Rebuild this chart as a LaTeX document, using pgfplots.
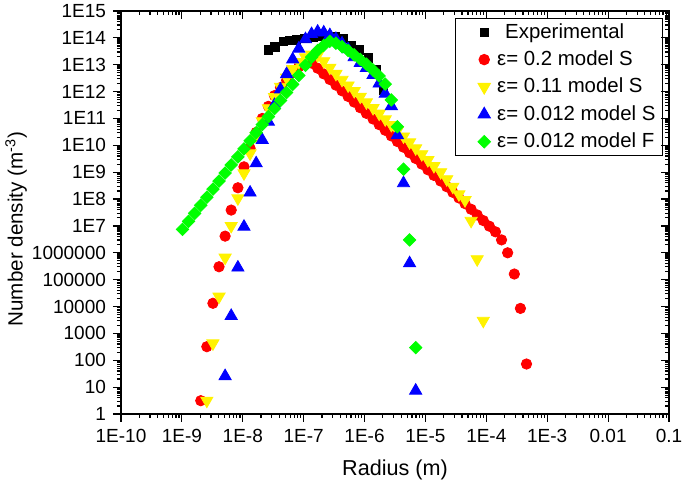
\documentclass[border=0pt]{standalone}
\usepackage{fontspec}
\setmainfont{Liberation Sans}
\usepackage{pgfplots}
\usepackage{pgfplotstable}
\pgfplotsset{compat=1.18}

\pgfplotstableread{
r N
2.63e-8 3.55e13
3.39e-8 4.68e13
4.62e-8 7.24e13
5.96e-8 7.94e13
7.67e-8 8.32e13
1.047e-7 9.33e13
1.413e-7 1.07e14
1.862e-7 1.17e14
2.399e-7 1.23e14
3.266e-7 1.10e14
4.467e-7 9.55e13
6.14e-7 5.37e13
8.32e-7 3.55e13
1.148e-6 1.78e13
1.549e-6 6.31e12
2.028e-6 1.10e12
}\tblexp

\pgfplotstableread{
r N
2.042e-9 3.13
2.570e-9 320
3.236e-9 1.32e4
4.074e-9 3.02e5
5.129e-9 4.17e6
6.457e-9 3.89e7
8.318e-9 2.63e8
1.047e-8 1.58e9
1.318e-8 7.76e9
1.660e-8 3.02e10
2.089e-8 1.00e11
2.630e-8 2.82e11
3.311e-8 7.08e11
4.169e-8 1.41e12
5.248e-8 2.63e12
6.607e-8 5.01e12
8.318e-8 8.32e12
1.072e-7 1.26e13
1.349e-7 1.15e13
1.698e-7 7.41e12
2.138e-7 4.57e12
2.692e-7 2.82e12
3.388e-7 1.74e12
4.266e-7 1.07e12
5.370e-7 6.61e11
6.761e-7 4.07e11
8.511e-7 2.51e11
1.072e-6 1.55e11
1.380e-6 9.55e10
1.738e-6 5.89e10
2.188e-6 3.63e10
2.754e-6 2.24e10
3.467e-6 1.38e10
4.365e-6 8.51e9
5.495e-6 5.25e9
6.918e-6 3.24e9
8.710e-6 2.00e9
1.096e-5 1.23e9
1.380e-5 7.59e8
1.778e-5 4.68e8
2.239e-5 2.88e8
2.818e-5 1.78e8
3.548e-5 1.10e8
4.467e-5 6.76e7
5.623e-5 4.17e7
7.079e-5 2.57e7
8.913e-5 1.58e7
1.122e-4 9.77e6
1.413e-4 6.03e6
1.778e-4 3.02e6
2.239e-4 1.00e6
2.884e-4 1.62e5
3.631e-4 8.51e3
4.571e-4 72.4
}\tblred

\pgfplotstableread{
r N
2.570e-9 3.13
3.236e-9 427
4.074e-9 2.34e4
5.129e-9 6.61e5
6.457e-9 1.00e7
8.318e-9 1.07e8
1.047e-8 9.12e8
1.318e-8 5.01e9
1.660e-8 2.24e10
2.089e-8 7.94e10
2.630e-8 2.40e11
3.311e-8 6.31e11
4.169e-8 1.51e12
5.248e-8 3.31e12
6.607e-8 6.92e12
8.318e-8 1.26e13
1.072e-7 1.91e13
1.349e-7 2.40e13
1.698e-7 2.24e13
2.138e-7 1.35e13
2.692e-7 7.76e12
3.388e-7 4.57e12
4.266e-7 2.75e12
5.370e-7 1.70e12
6.761e-7 1.05e12
8.511e-7 6.46e11
1.072e-6 3.98e11
1.380e-6 2.45e11
1.738e-6 1.51e11
2.188e-6 9.33e10
2.754e-6 5.75e10
3.467e-6 3.55e10
4.365e-6 2.14e10
5.495e-6 1.29e10
6.918e-6 7.76e9
8.710e-6 4.68e9
1.096e-5 2.82e9
1.380e-5 1.70e9
1.778e-5 1.00e9
2.239e-5 5.50e8
2.818e-5 2.88e8
3.548e-5 1.51e8
4.467e-5 9.12e7
5.623e-5 1.55e7
7.079e-5 5.75e5
8.913e-5 2.95e3
1.122e-4 0.8
}\tblyel

\pgfplotstableread{
r N
5.129e-9 25.7
6.457e-9 4470
8.318e-9 2.82e5
1.047e-8 9.33e6
1.318e-8 1.74e8
1.660e-8 2.14e9
2.089e-8 1.58e10
2.630e-8 7.59e10
3.311e-8 3.16e11
4.169e-8 1.20e12
5.248e-8 4.47e12
6.607e-8 1.58e13
8.318e-8 3.98e13
1.072e-7 8.91e13
1.349e-7 1.38e14
1.698e-7 1.70e14
2.138e-7 1.58e14
2.692e-7 1.26e14
3.388e-7 9.12e13
4.266e-7 6.17e13
5.370e-7 3.80e13
6.761e-7 1.91e13
8.511e-7 1.17e13
1.072e-6 7.59e12
1.380e-6 4.17e12
1.738e-6 2.00e12
2.188e-6 8.32e11
2.754e-6 2.88e11
3.467e-6 2.40e10
4.365e-6 3.89e8
5.495e-6 4.07e5
6.918e-6 7.41
}\tblblue

\pgfplotstableread{
r N
1.023e-9 7.41e6
1.288e-9 1.48e7
1.622e-9 2.95e7
2.042e-9 5.89e7
2.570e-9 1.17e8
3.236e-9 2.34e8
4.074e-9 4.68e8
5.129e-9 9.33e8
6.457e-9 1.86e9
8.318e-9 3.72e9
1.047e-8 7.41e9
1.318e-8 1.48e10
1.660e-8 2.95e10
2.089e-8 5.89e10
2.630e-8 1.17e11
3.311e-8 2.34e11
4.169e-8 4.68e11
5.248e-8 9.33e11
6.607e-8 1.86e12
8.318e-8 3.98e12
1.072e-7 9.55e12
1.349e-7 1.91e13
1.698e-7 3.39e13
2.138e-7 5.25e13
2.692e-7 7.41e13
3.388e-7 6.31e13
4.266e-7 4.68e13
5.370e-7 3.39e13
6.761e-7 2.34e13
8.511e-7 1.58e13
1.072e-6 1.05e13
1.380e-6 6.31e12
1.738e-6 3.80e12
2.188e-6 1.91e12
2.754e-6 4.90e11
3.467e-6 4.90e10
4.365e-6 1.29e9
5.495e-6 3.02e6
6.918e-6 295
}\tblgreen

\begin{document}
\begin{tikzpicture}
\useasboundingbox (-60.5pt,-35.5pt) rectangle (282pt,207pt);
\begin{axis}[
  at={(0,0)}, anchor=south west, scale only axis,
  width=274pt, height=201.5pt,
  xmode=log, ymode=log,
  xmin=1e-10, xmax=0.1, ymin=1, ymax=1e15,
  xtick={1e-10,1e-9,1e-8,1e-7,1e-6,1e-5,1e-4,1e-3,1e-2,1e-1},
  ytick={1,1e1,1e2,1e3,1e4,1e5,1e6,1e7,1e8,1e9,1e10,1e11,1e12,1e13,1e14,1e15},
  axis line style={line width=0.75pt},
  every tick/.style={black, line width=0.6pt},
  major tick length=4pt, minor tick length=2pt,
  xtick pos=left, ytick pos=left, tick align=outside,
  xticklabels={1E-10,1E-9,1E-8,1E-7,1E-6,1E-5,1E-4,1E-3,0.01,0.1},
  yticklabels={1,10,100,1000,10000,100000,1000000,1E7,1E8,1E9,1E10,1E11,1E12,1E13,1E14,1E15},
  tick label style={font=\fontsize{9.5}{11}\selectfont},
  xlabel={Radius (m)}, ylabel={Number density (m\textsuperscript{-3})},
  xlabel style={font=\fontsize{10.8}{13}\selectfont, at={(axis description cs:0.5,-0.139)}, anchor=center},
  ylabel style={font=\fontsize{10.3}{12}\selectfont, at={(axis description cs:-0.1916,0.459)}, anchor=center},
  clip marker paths=true,
  legend style={at={(0.989,0.983)}, anchor=north east, draw=black, line width=0.5pt,
    font=\fontsize{10.2}{12}\selectfont, inner xsep=1.5pt, inner ysep=0.5pt, row sep=0.8pt},
  legend cell align=left,
  legend image code/.code={\path[draw=none] (0pt,0pt) (17.5pt,0pt);
    \draw[#1, draw=none] plot[only marks] coordinates {(13pt,0pt)};},
]
\addplot[only marks, mark=square*, mark size=2.1pt, color=black, mark options={draw=none}] table[x=r,y=N] {\tblexp};
\addlegendentry{\hspace{4pt}Experimental}
\addplot[only marks, mark=*, mark size=2.6pt, color=red, mark options={draw=none}] table[x=r,y=N] {\tblred};
\addlegendentry{ε= 0.2 model S}
\addplot[only marks, mark=triangle*, mark size=3.5pt, color=yellow, mark options={draw=none, rotate=180}] table[x=r,y=N] {\tblyel};
\addlegendentry{ε= 0.11 model S}
\addplot[only marks, mark=triangle*, mark size=3.5pt, color=blue, mark options={draw=none}] table[x=r,y=N] {\tblblue};
\addlegendentry{ε= 0.012 model S}
\addplot[only marks, mark=square*, mark size=2.2pt, color=green, mark options={draw=none, rotate=45}] table[x=r,y=N] {\tblgreen};
\addlegendentry{ε= 0.012 model F}
\end{axis}
\begin{axis}[
  at={(0,0)}, anchor=south west, scale only axis,
  width=274pt, height=201.5pt,
  xmode=log, ymode=log,
  xmin=1e-10, xmax=0.1, ymin=1, ymax=1e15,
  xtick={1e-10,1e-9,1e-8,1e-7,1e-6,1e-5,1e-4,1e-3,1e-2,1e-1},
  ytick={1,1e1,1e2,1e3,1e4,1e5,1e6,1e7,1e8,1e9,1e10,1e11,1e12,1e13,1e14,1e15},
  axis line style={line width=0.75pt},
  every tick/.style={black, line width=0.6pt},
  major tick length=4pt, minor tick length=2pt,
  xtick pos=right, ytick pos=right, tick align=inside,
  xticklabels={}, yticklabels={},
]
\addplot[draw=none, forget plot] coordinates {(1e-5,1e5)};
\end{axis}
\end{tikzpicture}
\end{document}
